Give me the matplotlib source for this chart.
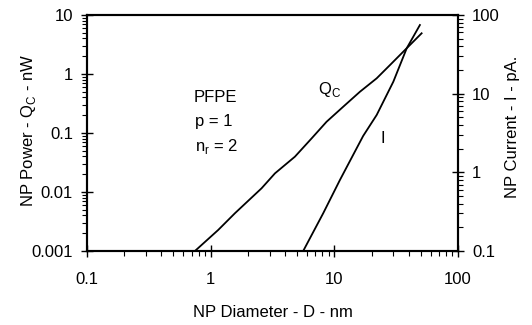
import matplotlib
matplotlib.use("Agg")
import matplotlib.pyplot as plt
from matplotlib.ticker import FixedLocator, LogLocator, NullFormatter, FuncFormatter

plt.rcParams['font.family'] = ['Liberation Sans', 'DejaVu Sans']
plt.rcParams['mathtext.fontset'] = 'custom'
plt.rcParams['mathtext.rm'] = 'Liberation Sans'

# Data
qc_diameter = [0.746, 1.15, 1.57, 2.58, 3.31, 4.8, 6.55, 8.65, 11.8, 16.1, 22.0, 28.2, 36.1, 50.8]
qc_power = [0.001, 0.00227, 0.00436, 0.01156, 0.0207, 0.0397, 0.081, 0.155, 0.279, 0.50, 0.845, 1.42, 2.39, 4.9]

i_diameter = [5.6, 8.13, 11.1, 17.1, 22.0, 30.0, 38.5, 49.2]
i_current = [0.1, 0.302, 0.80, 2.9, 5.36, 14.2, 37.8, 74.6]

x_ticks = [0.1, 1, 10, 100]
left_ticks = [0.001, 0.01, 0.1, 1, 10]
right_ticks = [0.1, 1, 10, 100]

fs = 12
fig = plt.figure(figsize=(5.32, 3.25), dpi=100)
ax = fig.add_axes([87/532, 1-251/325, (458-87)/532, (251-15)/325])
ax2 = ax.twinx()

ax.plot(qc_diameter, qc_power, color='black', lw=1.3)
ax2.plot(i_diameter, i_current, color='black', lw=1.3)

ax.set_xscale('log')
ax.set_yscale('log')
ax2.set_yscale('log')
ax.set_xlim(0.1, 100)
ax.set_ylim(0.001, 10)
ax2.set_ylim(0.1, 100)

fmt = FuncFormatter(lambda v, p: '%g' % v)
ax.xaxis.set_major_locator(FixedLocator(x_ticks))
ax.yaxis.set_major_locator(FixedLocator(left_ticks))
ax2.yaxis.set_major_locator(FixedLocator(right_ticks))
for a in (ax.xaxis, ax.yaxis, ax2.yaxis):
    a.set_major_formatter(fmt)
    a.set_minor_locator(LogLocator(base=10, subs=range(2, 10), numticks=20))
    a.set_minor_formatter(NullFormatter())

for a in (ax, ax2):
    for s in a.spines.values():
        s.set_linewidth(1.5)

ax.tick_params(axis='both', which='major', direction='inout', length=8, width=1.0, labelsize=fs, pad=6)
ax.tick_params(axis='both', which='minor', direction='out', length=3.5, width=0.8)
ax.tick_params(axis='x', which='major', pad=11)
ax2.tick_params(axis='y', which='major', direction='inout', length=8, width=1.0, labelsize=fs, pad=6)
ax2.tick_params(axis='y', which='minor', direction='out', length=3.5, width=0.8)

ax.set_xlabel('NP Diameter - D - nm', fontsize=fs, labelpad=13)
ax.set_ylabel(r'NP Power - Q$_\mathregular{C}$ - nW', fontsize=fs)
ax2.set_ylabel('NP Current - I - pA.', fontsize=fs)
ax.yaxis.set_label_coords(-0.132, 0.513)
ax2.yaxis.set_label_coords(1.127, 0.525)

ax.text(1.10, 0.40, 'PFPE', fontsize=fs, ha='center', va='center')
ax.text(0.745, 0.155, 'p = 1', fontsize=fs, ha='left', va='center')
ax.text(0.745, 0.058, r'n$_\mathregular{r}$ = 2', fontsize=fs, ha='left', va='center')
ax.text(9.2, 0.55, r'Q$_\mathregular{C}$', fontsize=fs, ha='center', va='center')
ax.text(24.5, 0.08, 'I', fontsize=fs, ha='center', va='center')

fig.savefig('out.png', dpi=100)
